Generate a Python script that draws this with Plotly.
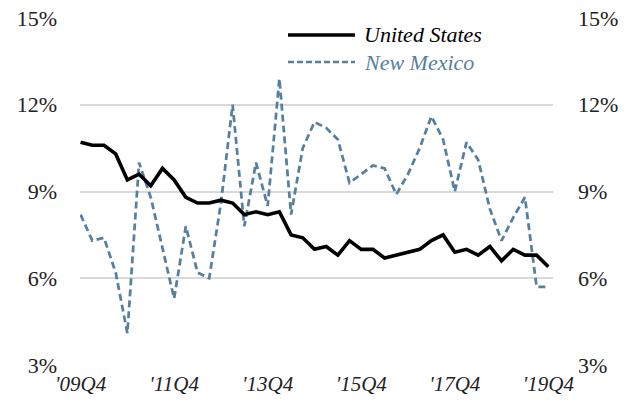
import plotly.graph_objects as go

# Quarter categories '09Q4 .. '19Q4
quarters = ["'09Q4"] + [f"'{y:02d}Q{q}" for y in range(10, 20) for q in (1, 2, 3, 4)]

us_rate = [10.7, 10.6, 10.6, 10.3, 9.4, 9.6, 9.2, 9.8, 9.4, 8.8,
           8.6, 8.6, 8.7, 8.6, 8.2, 8.3, 8.2, 8.3, 7.5, 7.4,
           7.0, 7.1, 6.8, 7.3, 7.0, 7.0, 6.7, 6.8, 6.9, 7.0,
           7.3, 7.5, 6.9, 7.0, 6.8, 7.1, 6.6, 7.0, 6.8, 6.8,
           6.4]

nm_rate = [8.2, 7.3, 7.4, 6.2, 4.1, 10.0, 8.8, 7.0, 5.3, 7.8,
           6.2, 6.0, 8.6, 12.0, 7.8, 10.0, 8.5, 12.9, 8.2, 10.5,
           11.4, 11.2, 10.8, 9.3, 9.6, 9.9, 9.8, 8.9, 9.6, 10.5,
           11.6, 10.8, 9.0, 10.7, 10.1, 8.4, 7.3, 8.1, 8.8, 5.7,
           5.7]

tick_labels = ["'09Q4", "'11Q4", "'13Q4", "'15Q4", "'17Q4", "'19Q4"]
y_ticks = [3, 6, 9, 12, 15]
y_tick_text = ["3%", "6%", "9%", "12%", "15%"]

NM_COLOR = "#55809F"
FONT = "Liberation Serif"

W, H = 634, 411
L, R, T, B = 80, 81, 18, 46
PW, PH = W - L - R, H - T - B


def px(x):
    return (x - L) / PW


def py(y):
    return (H - B - y) / PH


fig = go.Figure()
fig.add_trace(go.Scatter(x=quarters, y=nm_rate, mode="lines", name="New Mexico",
                         line=dict(color=NM_COLOR, width=2.75, dash="7px,4px"),
                         showlegend=False))
fig.add_trace(go.Scatter(x=quarters, y=us_rate, mode="lines", name="United States",
                         line=dict(color="black", width=3.6), showlegend=False))
# invisible trace to activate right axis
fig.add_trace(go.Scatter(x=quarters[:1], y=[us_rate[0]], yaxis="y2", mode="lines",
                         line=dict(width=0), hoverinfo="skip", showlegend=False))

fig.update_layout(
    width=W, height=H,
    margin=dict(l=L, r=R, t=T, b=B, autoexpand=False),
    plot_bgcolor="white", paper_bgcolor="white",
    font=dict(family=FONT, size=20, color="#222"),
    xaxis=dict(type="category", categoryorder="array", categoryarray=quarters,
               range=[-0.05, 40.4], tickvals=tick_labels, ticktext=tick_labels,
               showgrid=False, zeroline=False, showline=False, ticks="",
               automargin=False,
               tickfont=dict(family=FONT, size=21, style="italic", color="#222"),
               ticklabelstandoff=4),
    yaxis=dict(range=[3, 15], tickvals=y_ticks, ticktext=y_tick_text,
               showgrid=True, gridcolor="#D9D9D9", gridwidth=1.5,
               zeroline=False, showline=False, ticks="", automargin=False,
               tickfont=dict(family=FONT, size=22, color="#222"),
               ticklabelstandoff=22),
    yaxis2=dict(range=[3, 15], tickvals=y_ticks, ticktext=y_tick_text, overlaying="y",
                side="right", showgrid=False, zeroline=False, showline=False, ticks="",
                automargin=False,
                tickfont=dict(family=FONT, size=22, color="#222"),
                ticklabelstandoff=24),
    showlegend=False,
)

# Manual legend
fig.add_shape(type="line", xref="paper", yref="paper", x0=px(288), x1=px(355),
              y0=py(35), y1=py(35), line=dict(color="black", width=3.6))
fig.add_shape(type="line", xref="paper", yref="paper", x0=px(288), x1=px(355),
              y0=py(62), y1=py(62), line=dict(color=NM_COLOR, width=2.5, dash="6px,3px"))
fig.add_annotation(xref="paper", yref="paper", x=px(362), y=py(35), xanchor="left",
                   yanchor="middle", showarrow=False, text="United States",
                   font=dict(family=FONT, size=22, color="black", style="italic"))
fig.add_annotation(xref="paper", yref="paper", x=px(362), y=py(62), xanchor="left",
                   yanchor="middle", showarrow=False, text="New Mexico",
                   font=dict(family=FONT, size=22, color=NM_COLOR, style="italic"))

fig.write_html("out.html", config={"displayModeBar": False},
               post_script="document.body.style.margin='0';")
